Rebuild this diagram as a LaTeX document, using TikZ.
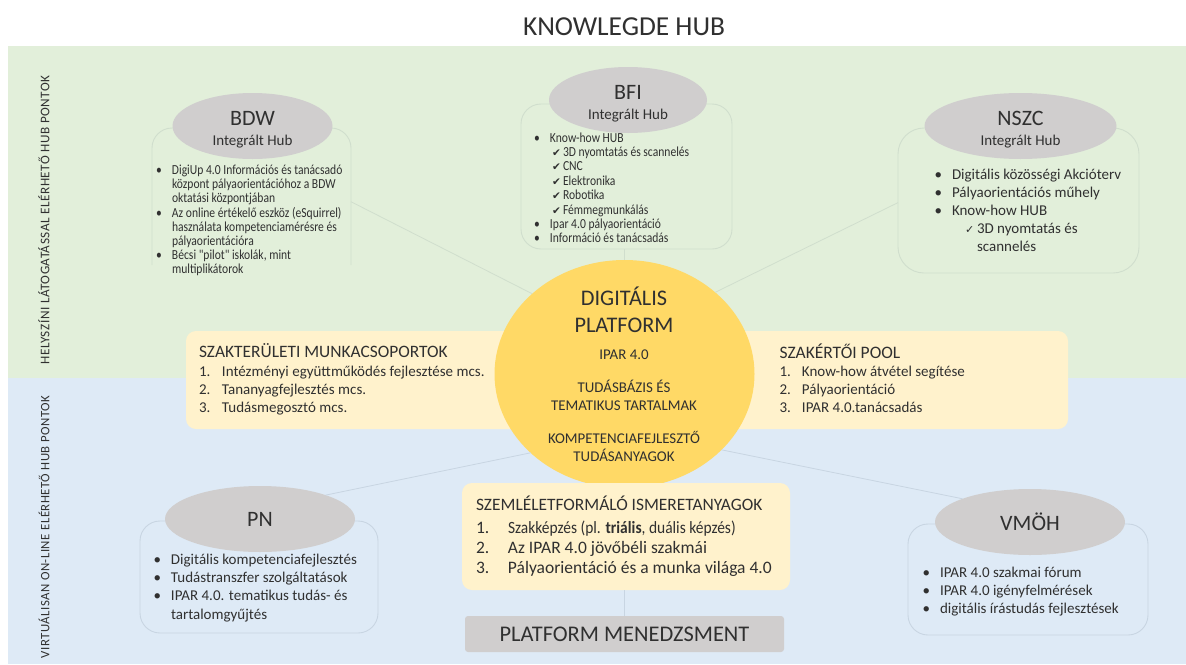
\documentclass[tikz,border=0pt]{standalone}
\usepackage{fontspec}
\setmainfont{Carlito}
\newfontfamily\symfont{DejaVu Sans}
\newfontfamily\narrow[FakeStretch=0.9]{Carlito}
\newfontfamily\slimfont[FakeStretch=0.84]{Carlito}
\usetikzlibrary{shapes.geometric}
\definecolor{bggreen}{RGB}{226,239,218}
\definecolor{bgblue}{RGB}{222,234,246}
\definecolor{softyellow}{RGB}{255,242,204}
\definecolor{sun}{RGB}{255,217,102}
\definecolor{hubgray}{RGB}{208,206,206}
\definecolor{ink}{RGB}{48,48,48}
\definecolor{greenline}{RGB}{208,222,205}
\definecolor{blueline}{RGB}{200,213,226}
\newcommand{\fsz}[2]{\fontsize{#1}{#2}\selectfont}
\newcommand{\bul}[1]{\llap{\smash{•}\hspace{10pt}}#1}
\newcommand{\chk}[1]{\hspace*{2pt}\makebox[11pt][l]{\symfont\fontsize{10.5}{10.5}\selectfont ✔}#1}
\newcommand{\num}[3]{\makebox[#1][l]{#2}#3}
\newcommand{\hubtitle}[1]{\rule{0pt}{21pt}{\fontsize{22}{20}\selectfont #1}}
\tikzset{
  x=1pt,y=-1pt,
  txt/.style={inner sep=0pt,outer sep=0pt,text=ink,align=left,anchor=north west},
  ctr/.style={inner sep=0pt,outer sep=0pt,text=ink,align=center},
  hub/.style={ellipse,fill=hubgray,inner sep=0pt,outer sep=0pt,text=ink,align=center,font=\fsz{15}{20}},
  frame/.style={rectangle,draw=#1,line width=0.9pt,rounded corners=20pt,inner sep=0pt,outer sep=0pt},
  softbox/.style={rectangle,fill=softyellow,rounded corners=10pt,inner sep=0pt,outer sep=0pt},
  link/.style={draw=#1,line width=0.8pt},
  side/.style={inner sep=0pt,outer sep=0pt,rotate=90,text=ink}
}
\begin{document}
\begin{tikzpicture}
\useasboundingbox (0,0) rectangle (1186,664);
\fill[white] (0,0) rectangle (1186,664);
\fill[bggreen] (8,46) rectangle (1186,378);
\fill[bgblue] (8,378) rectangle (1186,664);
\node[ctr,font=\fsz{27.4}{30}] (title) at (624,27) {KNOWLEGDE HUB};
\node[side,font=\fsz{13.2}{15}] (sideA) at (44,220) {\addfontfeature{LetterSpace=4}HELYSZÍNI LÁTOGATÁSSAL ELÉRHETŐ HUB PONTOK};
\node[side,font=\fsz{12.8}{15}] (sideB) at (44,527) {\addfontfeature{LetterSpace=4}VIRTUÁLISAN ON-LINE ELÉRHETŐ HUB PONTOK};
% frames
\node[minimum width=199pt,minimum height=137pt,inner sep=0pt,outer sep=0pt] (bdwbox) at (251.5,196.5) {};
\draw[greenline,line width=0.9pt,rounded corners=20pt] (bdwbox.south west) -- (bdwbox.north west) -- (bdwbox.north east) -- (bdwbox.south east);
\node[frame=greenline,minimum width=211pt,minimum height=145pt] (bfibox) at (626.5,176.5) {};
\node[frame=greenline,minimum width=241pt,minimum height=145pt,rounded corners=26pt] (nszcbox) at (1018.5,200.5) {};
\node[frame=blueline,minimum width=238pt,minimum height=112pt] (pnbox) at (259,577) {};
\node[frame=blueline,minimum width=240pt,minimum height=111pt] (vmohbox) at (1028,579.5) {};
% ellipses
\node[hub,minimum width=160pt,minimum height=66pt] (bdw) at (252.5,126) {\hubtitle{BDW}\\Integrált Hub};
\node[hub,minimum width=158pt,minimum height=66pt] (bfi) at (628,100) {\hubtitle{BFI}\\Integrált Hub};
\node[hub,minimum width=192pt,minimum height=66pt] (nszc) at (1020.5,126) {\hubtitle{NSZC}\\Integrált Hub};
\node[hub,minimum width=190pt,minimum height=66pt,font=\fsz{22}{24}] (pn) at (260,519) {PN};
\node[hub,minimum width=190pt,minimum height=66pt,font=\fsz{22}{24}] (vmoh) at (1030,522) {VMÖH};
% yellow boxes behind the circle
\node[softbox,minimum width=359pt,minimum height=98pt] (munka) at (365.5,380) {};
\node[softbox,minimum width=368pt,minimum height=98pt] (pool) at (884,380) {};
% platform circle
\node[ellipse,fill=sun,minimum width=260pt,minimum height=228pt,inner sep=0pt,outer sep=0pt] (plat) at (624.5,374) {};
% connectors
\draw[link=greenline] (bdwbox.-3) -- (plat.139);
\draw[link=greenline] (bfibox.south -| plat.north) -- (plat.north);
\draw[link=greenline] (nszcbox.181) -- (plat.42.6);
\draw[link=blueline] (pn.20) -- (plat.220.6);
\draw[link=blueline] (vmoh.161) -- (plat.-38.8);
% lower boxes
\node[softbox,minimum width=328pt,minimum height=107pt] (szem) at (626,536.5) {};
\node[rectangle,fill=hubgray,rounded corners=3pt,minimum width=319pt,minimum height=36pt,inner sep=0pt,outer sep=0pt,text=ink,font=\fsz{22.4}{24}] (menedzs) at (624.5,634) {PLATFORM MENEDZSMENT};
\draw[link=blueline] (szem.south -| menedzs.north) -- (menedzs.north);
% circle text
\node[ctr,font=\fsz{22.3}{27}] (platA) at (624,310) {DIGITÁLIS\\PLATFORM};
\node[ctr,font=\fsz{14.9}{18}] (platB) at (624,354.5) {IPAR 4.0};
\node[ctr,font=\fsz{14.9}{18}] (platC) at (624,395.5) {TUDÁSBÁZIS ÉS\\TEMATIKUS TARTALMAK};
\node[ctr,font=\fsz{14.9}{18}] (platD) at (624,446.5) {KOMPETENCIAFEJLESZTŐ\\TUDÁSANYAGOK};
% texts
\node[txt,font=\slimfont\fsz{13.8}{14.2}] (bdwtxt) at (172,165) {\bul{DigiUp 4.0 Információs és tanácsadó}\\központ pályaorientációhoz a BDW\\oktatási központjában\\\bul{Az online értékelő eszköz (eSquirrel)}\\használata kompetenciamérésre és\\pályaorientációra\\\bul{Bécsi "pilot" iskolák, mint}\\multiplikátorok};
\node[txt,font=\slimfont\fsz{13.8}{14.4}] (bfitxt) at (550,132.5) {\bul{Know-how HUB}\\\chk{3D nyomtatás és scannelés}\\\chk{CNC}\\\chk{Elektronika}\\\chk{Robotika}\\\chk{Fémmegmunkálás}\\\bul{Ipar 4.0 pályaorientáció}\\\bul{Információ és tanácsadás}};
\node[txt,font=\fsz{15}{18}] (nszctxt) at (952,169) {\bul{Digitális közösségi Akcióterv}\\\bul{Pályaorientációs műhely}\\\bul{Know-how HUB}\\\hspace*{13pt}\makebox[12pt][l]{\symfont\fontsize{11}{11}\selectfont ✓}3D nyomtatás és\\\hspace*{25pt}scannelés};
\node[txt,font=\fsz{15}{18.2}] (pntxt) at (171,554) {\bul{Digitális kompetenciafejlesztés}\\\bul{Tudástranszfer szolgáltatások}\\\bul{IPAR 4.0. tematikus tudás- és}\\tartalomgyűjtés};
\node[txt,font=\fsz{15}{18}] (vmohtxt) at (940,567) {\bul{IPAR 4.0 szakmai fórum}\\\bul{IPAR 4.0 igényfelmérések}\\\bul{digitális írástudás fejlesztések}};
\node[txt,font=\fsz{15}{18}] (munkatxt) at (199,366) {\num{23pt}{1.}{Intézményi együttműködés fejlesztése mcs.}\\\num{23pt}{2.}{Tananyagfejlesztés mcs.}\\\num{23pt}{3.}{Tudásmegosztó mcs.}};
\node[txt,font=\fsz{17.4}{20}] (munkahead) at (199,344) {SZAKTERÜLETI MUNKACSOPORTOK};
\node[txt,font=\fsz{17.5}{20}] (poolhead) at (779.5,344) {SZAKÉRTŐI POOL};
\node[txt,font=\fsz{15}{18}] (pooltxt) at (779.5,366) {\num{22.5pt}{1.}{Know-how átvétel segítése}\\\num{22.5pt}{2.}{Pályaorientáció}\\\num{22.5pt}{3.}{IPAR 4.0.tanácsadás}};
\node[txt,font=\fsz{17.4}{20}] (szemhead) at (476,496) {SZEMLÉLETFORMÁLÓ ISMERETANYAGOK};
\node[txt,font=\fsz{17.5}{20}] (szemtxt) at (476,520.5) {\num{32pt}{1.}{\narrow\fontsize{17.2}{20}\selectfont Szakképzés (pl. \textbf{triális}, duális képzés)}\\\num{32pt}{2.}{Az IPAR 4.0 jövőbéli szakmái}\\\num{32pt}{3.}{Pályaorientáció és a munka világa 4.0}};
\end{tikzpicture}
\end{document}
